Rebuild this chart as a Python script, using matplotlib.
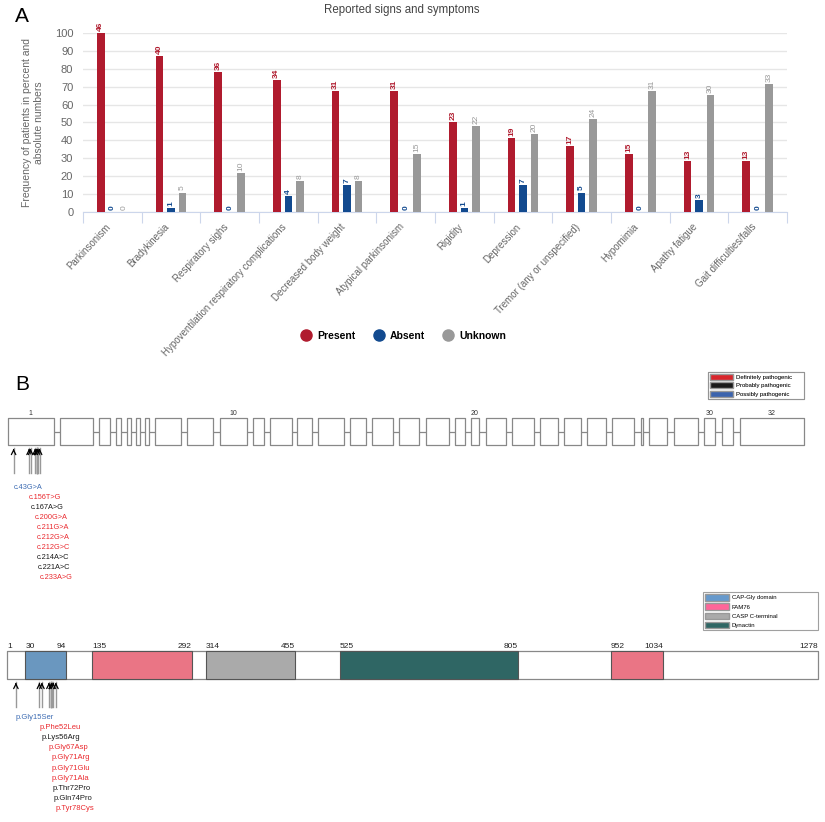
import matplotlib
matplotlib.use("Agg")
import matplotlib.pyplot as plt
from matplotlib.patches import Patch
from matplotlib.lines import Line2D
from matplotlib.transforms import ScaledTranslation

plt.rcParams['font.family'] = ['Liberation Sans', 'DejaVu Sans']

# ---------------- Panel A data ----------------
categories = ["Parkinsonism", "Bradykinesia", "Respiratory sighs",
              "Hypoventilation respiratory complications", "Decreased body weight",
              "Atypical parkinsonism", "Rigidity", "Depression",
              "Tremor (any or unspecified)", "Hypomimia", "Apathy fatigue",
              "Gait difficulties/falls"]
present_n = [46, 40, 36, 34, 31, 31, 23, 19, 17, 15, 13, 13]
absent_n = [0, 1, 0, 4, 7, 0, 1, 7, 5, 0, 3, 0]
unknown_n = [0, 5, 10, 8, 8, 15, 22, 20, 24, 31, 30, 33]
n_patients = 46
y_ticks = [0, 10, 20, 30, 40, 50, 60, 70, 80, 90, 100]

# ---------------- Panel B data ----------------
exon_starts = [7.7, 60, 99, 116, 127, 136, 145, 155, 187, 220, 253, 270, 297, 318, 350, 372,
               399, 426, 455, 471, 486, 512, 540, 564, 587, 612, 641, 649, 674, 704, 722, 740]
exon_ends = [54, 93, 110, 121, 131, 140, 149, 181, 213, 247, 264, 292, 312, 344, 366, 393,
             419, 449, 465, 479, 506, 534, 558, 581, 606, 634, 643, 667, 698, 715, 733, 804]
exon_numbered = [1, 10, 20, 30, 32]

cdna_pos = [43, 156, 167, 200, 211, 212, 212, 214, 221, 233]
cdna_labels = ["c.43G>A", "c.156T>G", "c.167A>G", "c.200G>A", "c.211G>A",
               "c.212G>A", "c.212G>C", "c.214A>C", "c.221A>C", "c.233A>G"]
cdna_class = ["Possibly", "Definitely", "Probably", "Definitely", "Definitely",
              "Definitely", "Definitely", "Probably", "Probably", "Definitely"]

protein_len = 1278
domain_names = ["CAP-Gly domain", "FAM76", "CASP C-terminal", "Dynactin", "FAM76"]
domain_starts = [30, 135, 314, 525, 952]
domain_ends = [94, 292, 455, 805, 1034]

aa_pos = [15, 52, 56, 67, 71, 71, 71, 72, 74, 78]
aa_labels = ["p.Gly15Ser", "p.Phe52Leu", "p.Lys56Arg", "p.Gly67Asp", "p.Gly71Arg",
             "p.Gly71Glu", "p.Gly71Ala", "p.Thr72Pro", "p.Gln74Pro", "p.Tyr78Cys"]
aa_class = ["Possibly", "Definitely", "Probably", "Definitely", "Definitely",
            "Definitely", "Definitely", "Probably", "Probably", "Definitely"]

# ---------------- styles ----------------
W, H = 825, 822
c_present, c_absent, c_unknown = "#b01b2e", "#124a8f", "#999999"
class_text_col = {"Definitely": "#ea2a2f", "Probably": "#1a1a1a", "Possibly": "#3d6cb3"}
class_patch_col = {"Definitely": "#d8262c", "Probably": "#1a1a1a", "Possibly": "#3b63ad"}
domain_cols = {"CAP-Gly domain": "#6a97bf", "FAM76": "#ea7585",
               "CASP C-terminal": "#aaaaaa", "Dynactin": "#2f6664"}
legend_domain_cols = {"CAP-Gly domain": "#6699cc", "FAM76": "#ff6699",
                      "CASP C-terminal": "#aaaaaa", "Dynactin": "#2f6664"}

fig = plt.figure(figsize=(W / 100, H / 100), dpi=100)

# ---------------- Panel A ----------------
axA = fig.add_axes([83 / W, 1 - 212 / H, (787 - 83) / W, (212 - 33) / H])
x = list(range(len(categories)))
off, bw = 0.196, 0.13
series = [(present_n, c_present, -off, "bold"), (absent_n, c_absent, 0, "bold"),
          (unknown_n, c_unknown, off, "normal")]
for vals, col, o, fw in series:
    pct = [v / n_patients * 100 for v in vals]
    xs = [i + o for i in x]
    axA.bar(xs, pct, width=bw, color=col, zorder=3)
    for xi, p, v in zip(xs, pct, vals):
        axA.annotate(str(v), (xi, p), xytext=(0, 1.5), textcoords="offset points",
                     rotation=90, ha="center", va="bottom", fontsize=6,
                     color=col, fontweight=fw, annotation_clip=False)
axA.set_xlim(-0.5, len(categories) - 0.5)
axA.set_ylim(0, 100)
axA.set_yticks(y_ticks)
axA.tick_params(axis="y", length=0, labelsize=8, labelcolor="#666666", pad=7)
axA.grid(axis="y", color="#e6e6e6", lw=1, zorder=0)
for s in ["top", "right", "left"]:
    axA.spines[s].set_visible(False)
axA.spines["bottom"].set_color("#ccd6eb")
axA.set_xticks([i - 0.5 for i in range(len(categories) + 1)], minor=False)
axA.set_xticklabels([])
axA.tick_params(axis="x", which="major", length=8, color="#ccd6eb", direction="out")
axA.set_xticks(x, minor=True)
axA.set_xticklabels(categories, minor=True, rotation=47, ha="right",
                    rotation_mode="anchor", fontsize=7, color="#666666")
axA.tick_params(axis="x", which="minor", length=0, pad=7)
shift = ScaledTranslation(-7 / 100, 0, fig.dpi_scale_trans)
for lab in axA.get_xticklabels(minor=True):
    lab.set_transform(lab.get_transform() + shift)
axA.set_ylabel("Frequency of patients in percent and\nabsolute numbers",
               fontsize=7.5, color="#666666", labelpad=8)
fig.text(402 / W, 1 - 10 / H, "Reported signs and symptoms", fontsize=8.3,
         color="#444444", ha="center", va="center")

handles = [Line2D([], [], marker="o", ls="", ms=8, color=c) for c in (c_present, c_absent, c_unknown)]
fig.legend(handles, ["Present", "Absent", "Unknown"], loc="center",
           bbox_to_anchor=(401 / W, 1 - 336 / H), ncol=3, frameon=False,
           prop={"weight": "bold", "size": 7.5}, handletextpad=0.1, columnspacing=1.2)

fig.text(15 / W, 1 - 16 / H, "A", fontsize=15, va="center", ha="left")
fig.text(15 / W, 1 - 384 / H, "B", fontsize=15, va="center", ha="left")

# ---------------- Panel B: gene ----------------
axG = fig.add_axes([0, 0, 1, 1])
axG.set_xlim(0, W)
axG.set_ylim(H, 0)
axG.axis("off")
axG.patch.set_alpha(0)

ex_top, ex_h = 418, 27
axG.hlines(ex_top + ex_h / 2, exon_ends[0], exon_starts[-1], color="#888888", lw=0.9, zorder=1)
axG.broken_barh([(s, e - s) for s, e in zip(exon_starts, exon_ends)], (ex_top, ex_h),
                facecolors="white", edgecolors="#888888", lw=0.9, zorder=2)
for n in exon_numbered:
    s, e = exon_starts[n - 1], exon_ends[n - 1]
    axG.text((s + e) / 2, ex_top - 1.5, str(n), fontsize=5, ha="center", va="bottom", color="#333333")

nt_scale = 0.137
gene_x = [exon_starts[0] + c * nt_scale for c in cdna_pos]
for i, (gx, lab, cl) in enumerate(zip(gene_x, cdna_labels, cdna_class)):
    axG.plot([gx, gx], [473, ex_top + ex_h + 3], color="#999999", lw=1.0, zorder=3)
    axG.annotate("", xy=(gx, ex_top + ex_h + 1), xytext=(gx, ex_top + ex_h + 8),
                 arrowprops=dict(arrowstyle="->", color="black", lw=0.9, mutation_scale=8))
    axG.text(gx, 487 + i * 10.1, lab, fontsize=5.3, color=class_text_col[cl],
             ha="left", va="center")

leg1 = axG.legend([Patch(facecolor=class_patch_col[k], edgecolor="#999999") for k in
                   ["Definitely", "Probably", "Possibly"]],
                  ["Definitely pathogenic", "Probably pathogenic", "Possibly pathogenic"],
                  loc="upper left", mode="expand",
                  bbox_to_anchor=(708 / W, 1 - 402 / H, (804 - 708) / W, 30 / H),
                  bbox_transform=fig.transFigure, fontsize=4.3, frameon=True,
                  fancybox=False, edgecolor="#888888", handlelength=3.9, handleheight=1.2,
                  labelspacing=0.35, borderpad=0.35, handletextpad=0.4, borderaxespad=0)
leg1.get_frame().set_linewidth(0.8)
axG.add_artist(leg1)

# ---------------- Panel B: protein ----------------
aa_scale = (818 - 7) / (protein_len - 1)
axP = fig.add_axes([0, 0, 1, 1])
axP.set_xlim(1 - 7 / aa_scale, 1 + (W - 7) / aa_scale)
axP.set_ylim(H, 0)
axP.axis("off")
axP.patch.set_alpha(0)

p_top, p_h = 651, 28
axP.broken_barh([(1, protein_len - 1)], (p_top, p_h), facecolors="white",
                edgecolors="#888888", lw=0.9, zorder=1)
for nm, s, e in zip(domain_names, domain_starts, domain_ends):
    axP.broken_barh([(s, e - s)], (p_top, p_h), facecolors=domain_cols[nm],
                    edgecolors="#555555", lw=0.8, zorder=2)
pos_labels = [(1, "left")]
for s, e in zip(domain_starts, domain_ends):
    pos_labels += [(s, "left"), (e, "right")]
pos_labels.append((protein_len, "right"))
for v, ha in pos_labels:
    axP.text(v, p_top - 1.5, str(v), fontsize=6, ha=ha, va="bottom", color="#222222")

for i, (a, lab, cl) in enumerate(zip(aa_pos, aa_labels, aa_class)):
    axP.plot([a, a], [707, p_top + p_h + 3], color="#999999", lw=1.0, zorder=3)
    axP.annotate("", xy=(a, p_top + p_h + 1), xytext=(a, p_top + p_h + 8),
                 arrowprops=dict(arrowstyle="->", color="black", lw=0.9, mutation_scale=8))
    axP.text(a, 717 + i * 10.2, lab, fontsize=5.5, color=class_text_col[cl],
             ha="left", va="center")

leg_names = ["CAP-Gly domain", "FAM76", "CASP C-terminal", "Dynactin"]
leg2 = axP.legend([Patch(facecolor=legend_domain_cols[k], edgecolor="#999999") for k in leg_names],
                  leg_names, loc="upper left", mode="expand",
                  bbox_to_anchor=(703 / W, 1 - 633 / H, (818 - 703) / W, 41 / H),
                  bbox_transform=fig.transFigure, fontsize=4.3, frameon=True,
                  fancybox=False, edgecolor="#888888", handlelength=4.0, handleheight=1.2,
                  labelspacing=0.5, borderpad=0.4, handletextpad=0.4, borderaxespad=0)
leg2.get_frame().set_linewidth(0.8)

fig.savefig("out.png", dpi=100)
